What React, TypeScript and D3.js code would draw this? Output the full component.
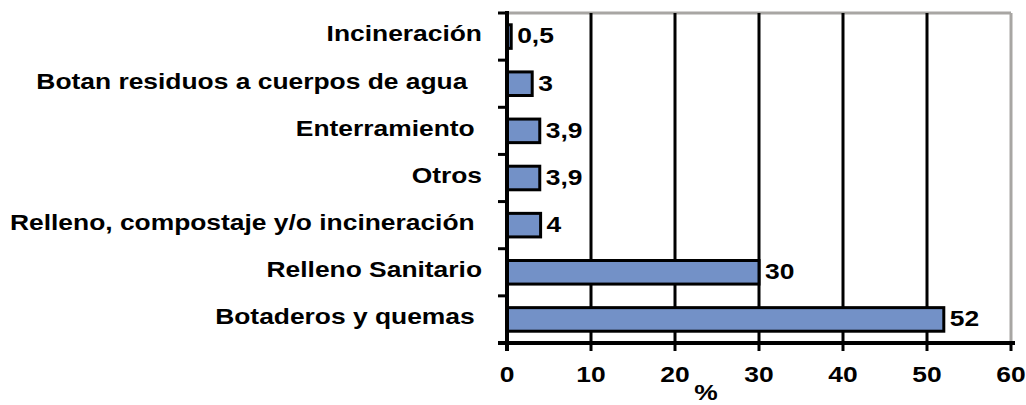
import React from "react";
import * as d3 from "d3";

const categories = [
  "Incineración",
  "Botan residuos a cuerpos de agua  ",
  "Enterramiento ",
  "Otros",
  "Relleno, compostaje y/o incineración ",
  "Relleno Sanitario",
  "Botaderos y quemas ",
];
const values = [0.5, 3, 3.9, 3.9, 4, 30, 52];
const valueLabels = ["0,5", "3", "3,9", "3,9", "4", "30", "52"];
const xTicks = [0, 10, 20, 30, 40, 50, 60];
const xTitle = "%";

const width = 1026;
const height = 405;
const margin = { top: 13, right: 15, bottom: 62, left: 507 };
const font = "'Liberation Sans', Arial, sans-serif";
const sx = 1.2; // the source text is a bit stretched sideways

export default function App() {
  const x = d3
    .scaleLinear()
    .domain([0, 60])
    .range([margin.left, width - margin.right]);
  const y = d3
    .scaleBand()
    .domain(categories)
    .range([margin.top, height - margin.bottom])
    .paddingInner(0.5)
    .paddingOuter(0.25);
  const step = y.step();
  const y0 = margin.top;
  const y1 = height - margin.bottom;

  const txt = (tx, ty, s, anchor, key) => (
    <text
      key={key}
      transform={`translate(${tx},${ty}) scale(${sx},1)`}
      textAnchor={anchor}
      dy="0.36em"
      style={{ whiteSpace: "pre" }}
      fontFamily={font}
      fontWeight="bold"
      fontSize={22}
      fill="#000"
    >
      {s}
    </text>
  );

  return (
    <svg
      width={width}
      height={height}
      style={{ position: "absolute", left: 0, top: 0, background: "#fff" }}
    >
      {/* frame */}
      <line x1={x(0)} x2={x(60)} y1={y0} y2={y0} stroke="#a8a6a3" strokeWidth={3} />
      <line x1={x(60)} x2={x(60)} y1={y0} y2={y1} stroke="#a8a6a3" strokeWidth={3} />

      {/* gridlines */}
      {xTicks.slice(1, -1).map((t) => (
        <line key={t} x1={x(t)} x2={x(t)} y1={y0} y2={y1} stroke="#000" strokeWidth={3} />
      ))}

      {/* bars */}
      {categories.map((c, i) => (
        <rect
          key={c}
          x={x(0)}
          y={y(c)}
          width={x(values[i]) - x(0)}
          height={y.bandwidth()}
          fill="#7391c7"
          stroke="#000"
          strokeWidth={3}
        />
      ))}

      {/* value labels */}
      {categories.map((c, i) =>
        txt(x(values[i]) + 6, y(c) + y.bandwidth() / 2 - 1, valueLabels[i], "start", "v" + i)
      )}

      {/* y axis */}
      <line x1={x(0)} x2={x(0)} y1={y0 - 2} y2={y1 + 8} stroke="#000" strokeWidth={4} />
      {d3.range(categories.length + 1).map((k) => (
        <line
          key={k}
          x1={x(0) - 9}
          x2={x(0)}
          y1={y0 + k * step}
          y2={y0 + k * step}
          stroke="#000"
          strokeWidth={3}
        />
      ))}
      {categories.map((c, i) => txt(482, y(c) + y.bandwidth() / 2 - 3, c, "end", "c" + i))}

      {/* x axis */}
      <line x1={x(0) - 9} x2={x(60) + 4} y1={y1} y2={y1} stroke="#000" strokeWidth={4} />
      {xTicks.map((t) => (
        <line key={t} x1={x(t)} x2={x(t)} y1={y1} y2={y1 + 8} stroke="#000" strokeWidth={3} />
      ))}
      {xTicks.map((t) => txt(x(t), y1 + 31, String(t), "middle", "t" + t))}
      {txt(706, y1 + 49, xTitle, "middle", "title")}
    </svg>
  );
}
